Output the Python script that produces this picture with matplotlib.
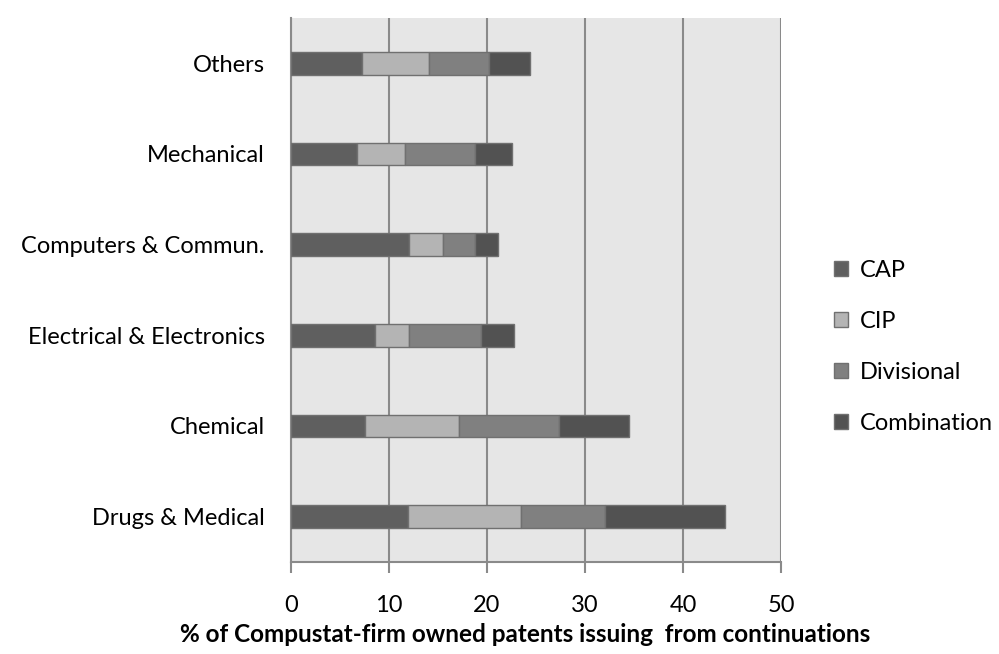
import matplotlib.pyplot as plt
import numpy as np

plt.rcParams['font.family'] = ['Lato', 'DejaVu Sans']

# Industries, bottom to top
industries = ["Drugs & Medical", "Chemical", "Electrical & Electronics",
              "Computers & Commun.", "Mechanical", "Others"]

# % of patents by continuation type
cap = [11.9, 7.6, 8.6, 12.0, 6.75, 7.2]
cip = [11.6, 9.5, 3.4, 3.5, 4.85, 6.9]
divisional = [8.5, 10.25, 7.4, 3.25, 7.15, 6.1]
combination = [12.3, 7.1, 3.4, 2.4, 3.8, 4.2]

series = [("CAP", cap, "#5f5f5f"),
          ("CIP", cip, "#b4b4b4"),
          ("Divisional", divisional, "#808080"),
          ("Combination", combination, "#525252")]

fs = 17

fig = plt.figure(figsize=(9.99, 6.54), dpi=100)
ax = fig.add_axes([0.2913, 0.1407, 0.4905, 0.8318])
ax.set_facecolor("#e6e6e6")

y = np.arange(len(industries))
left = np.zeros(len(industries))
for name, vals, color in series:
    ax.barh(y, vals, left=left, height=0.25, color=color,
            edgecolor="#707070", linewidth=1, label=name, zorder=3)
    left += np.array(vals)

ax.set_xlim(0, 50)
ax.set_ylim(-0.5, len(industries) - 0.5)
ax.set_xticks(range(0, 51, 10))
ax.set_yticks(y)
ax.set_yticklabels(industries, fontsize=fs)
ax.tick_params(axis="y", length=0, pad=19)
ax.tick_params(axis="x", length=8, width=1.5, color="#8a8a8a",
               labelsize=fs, pad=16)
ax.xaxis.grid(True, color="#8a8a8a", linewidth=1.5, zorder=1)

for side in ["top", "right"]:
    ax.spines[side].set_visible(False)
ax.spines["left"].set_color("#8a8a8a")
ax.spines["left"].set_linewidth(1.5)
ax.spines["bottom"].set_color("#8a8a8a")
ax.spines["bottom"].set_linewidth(1.5)

ax.set_xlabel("% of Compustat-firm owned patents issuing  from continuations",
              fontsize=17.5, fontweight="bold", labelpad=5)
ax.xaxis.label.set_x(0.477)

ax.legend(loc="center left", bbox_to_anchor=(1.065, 0.396), frameon=False,
          fontsize=fs, handlelength=0.6, handleheight=0.6,
          handletextpad=0.5, labelspacing=1.27)

fig.savefig("out.png", dpi=100)
